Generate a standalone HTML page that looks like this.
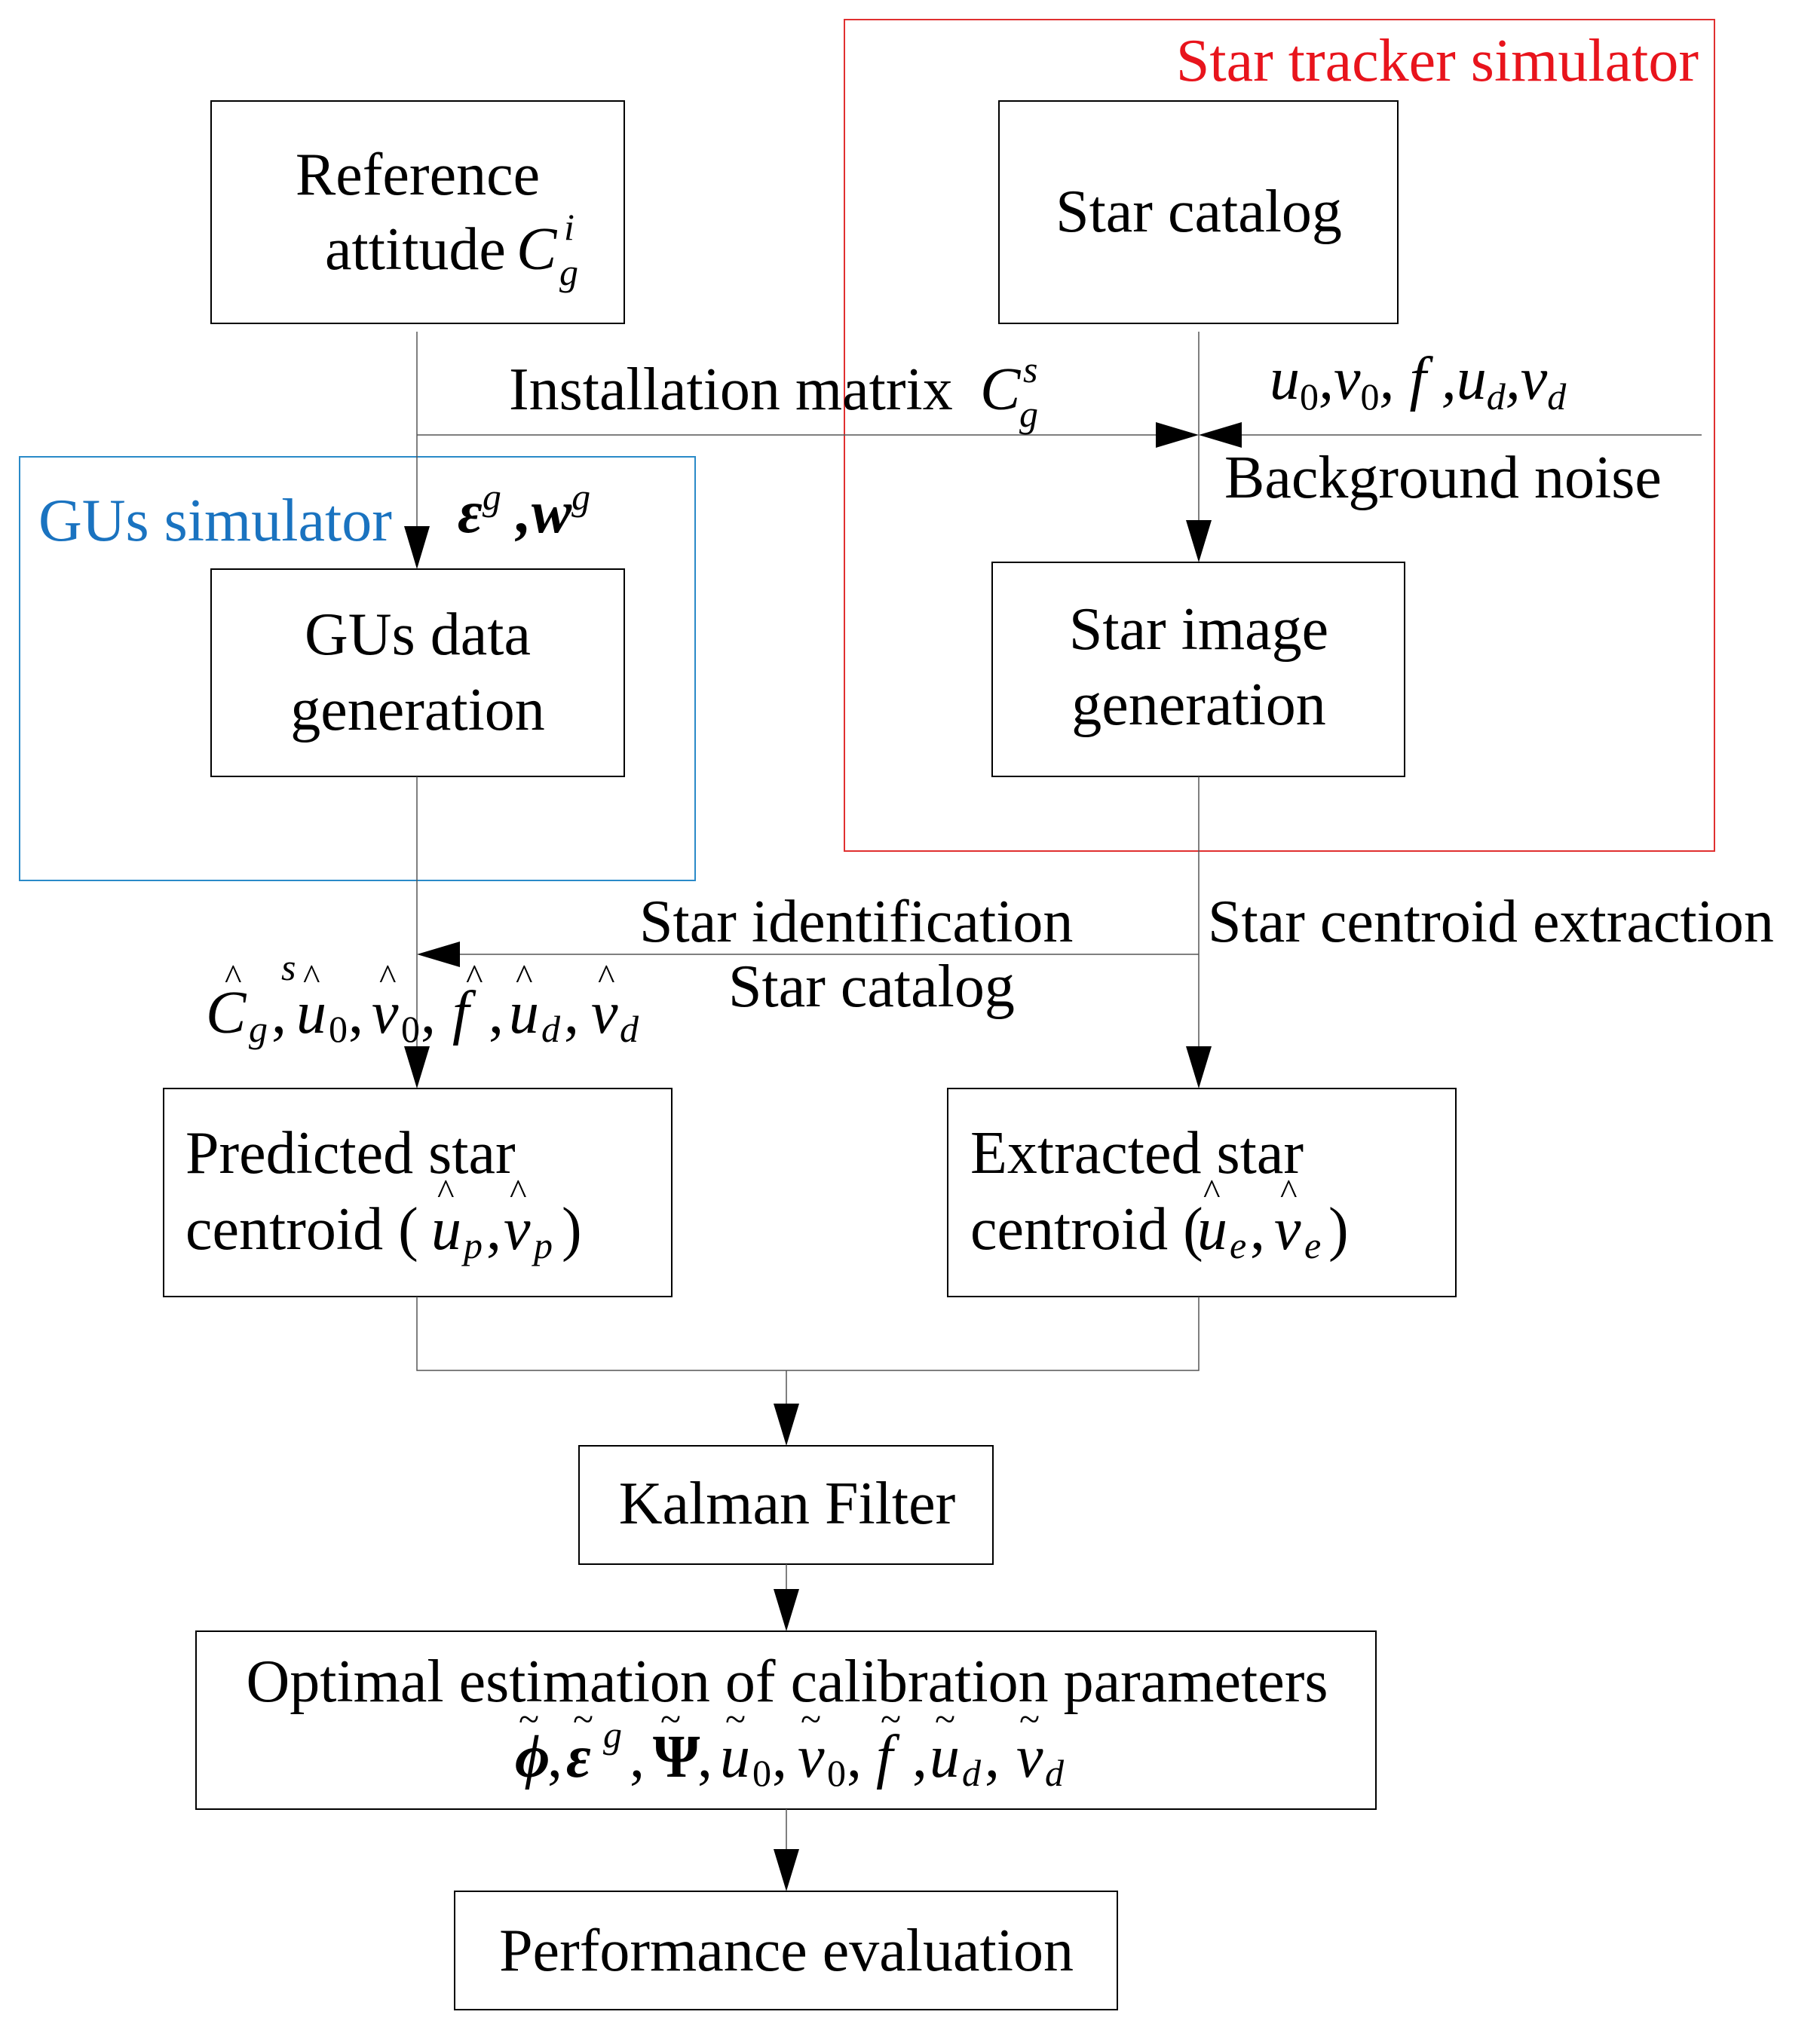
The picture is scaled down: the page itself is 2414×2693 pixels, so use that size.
<!DOCTYPE html>
<html><head><meta charset="utf-8"><style>
html,body{margin:0;padding:0;background:#fff}
svg{display:block}
text{font-family:"Liberation Serif",serif;font-size:80px;fill:#000}
.i{font-style:italic}
.s{font-size:50px}
.h{font-size:48px}
</style></head><body>
<svg width="2414" height="2693" viewBox="0 0 2414 2693" xmlns="http://www.w3.org/2000/svg">
<g fill="none" stroke-width="2">
<rect x="1120" y="26" width="1154" height="1103" stroke="#e03030"/>
<rect x="26" y="606" width="896" height="562" stroke="#2a8ac8"/>
<g stroke="#000">
<rect x="280" y="134" width="548" height="295"/>
<rect x="1325" y="134" width="529" height="295"/>
<rect x="280" y="755" width="548" height="275"/>
<rect x="1316" y="746" width="547" height="284"/>
<rect x="217" y="1444" width="674" height="276"/>
<rect x="1257" y="1444" width="674" height="276"/>
<rect x="768" y="1918" width="549" height="157"/>
<rect x="260" y="2164" width="1565" height="236"/>
<rect x="603" y="2509" width="879" height="157"/>
</g>
<g stroke="#555" stroke-width="1.5">
<line x1="553" y1="440" x2="553" y2="700"/>
<line x1="553" y1="1030" x2="553" y2="1390"/>
<line x1="553" y1="577" x2="1545" y2="577"/>
<line x1="1635" y1="577" x2="2257" y2="577"/>
<line x1="1590" y1="440" x2="1590" y2="690"/>
<line x1="1590" y1="1030" x2="1590" y2="1390"/>
<line x1="595" y1="1266" x2="1590" y2="1266"/>
<polyline points="553,1720 553,1818 1590,1818 1590,1720"/>
<line x1="1043" y1="1818" x2="1043" y2="1862"/>
<line x1="1043" y1="2075" x2="1043" y2="2108"/>
<line x1="1043" y1="2400" x2="1043" y2="2453"/>
</g>
</g>
<g fill="#000">
<polygon points="536,698 570,698 553,755"/>
<polygon points="1573,690 1607,690 1590,746"/>
<polygon points="1533,560 1533,594 1590,577"/>
<polygon points="1647,560 1647,594 1590,577"/>
<polygon points="553,1266 610,1249 610,1283"/>
<polygon points="536,1388 570,1388 553,1444"/>
<polygon points="1573,1388 1607,1388 1590,1444"/>
<polygon points="1026,1862 1060,1862 1043,1918"/>
<polygon points="1026,2108 1060,2108 1043,2164"/>
<polygon points="1026,2453 1060,2453 1043,2509"/>
</g>
<text x="2253" y="107" text-anchor="end" style="fill:#e8141c">Star tracker simulator</text>
<text x="51" y="717" style="fill:#1a73c0">GUs simulator</text>
<text x="554" y="258" text-anchor="middle">Reference</text>
<text x="431" y="357">attitude</text><text x="685" y="357" class="i">C</text>
<text x="748" y="318" class="i s">i</text><text x="742" y="378" class="i s">g</text>
<text x="1590" y="307" text-anchor="middle">Star catalog</text>
<text x="675" y="543">Installation matrix</text><text x="1300" y="543" class="i">C</text>
<text x="1357" y="507" class="i s">s</text><text x="1352" y="566" class="i s">g</text>
<text x="1684" y="529" class="i">u<tspan class="s" dy="14" style="font-style:normal">0</tspan><tspan dy="-14">,v</tspan><tspan class="s" dy="14" style="font-style:normal">0</tspan><tspan dy="-14">, f ,u</tspan><tspan class="s" dy="14">d</tspan><tspan dy="-14">,v</tspan><tspan class="s" dy="14">d</tspan></text>
<text x="1624" y="660">Background noise</text>
<text x="607" y="706" class="i" style="font-weight:bold">ε<tspan class="s" dy="-30" style="font-weight:normal">g</tspan><tspan dy="30"> ,w</tspan><tspan class="s" dy="-30" style="font-weight:normal">g</tspan></text>
<text x="554" y="868" text-anchor="middle">GUs data</text>
<text x="554" y="968" text-anchor="middle">generation</text>
<text x="1590" y="861" text-anchor="middle">Star image</text>
<text x="1590" y="961" text-anchor="middle">generation</text>
<text x="848" y="1249">Star identification</text>
<text x="1602" y="1249">Star centroid extraction</text>
<text x="966" y="1335">Star catalog</text>
<text x="273" y="1370" class="i">C</text><text x="330" y="1382" class="i s">g</text><text x="360" y="1370">,</text>
<text x="393" y="1370" class="i">u</text><text x="436" y="1382" class="s">0</text><text x="462" y="1370">,</text>
<text x="493" y="1370" class="i">v</text><text x="532" y="1382" class="s">0</text><text x="558" y="1370">,</text>
<text x="600" y="1370" class="i">f</text><text x="648" y="1370">,</text>
<text x="675" y="1370" class="i">u</text><text x="718" y="1382" class="i s">d</text><text x="748" y="1370">,</text>
<text x="784" y="1370" class="i">v</text><text x="822" y="1382" class="i s">d</text>
<text x="298" y="1312" class="h">^</text><text x="373" y="1300" class="i s">s</text>
<text x="402" y="1312" class="h">^</text><text x="503" y="1312" class="h">^</text>
<text x="618" y="1312" class="h">^</text><text x="684" y="1312" class="h">^</text><text x="793" y="1312" class="h">^</text>
<text x="246" y="1556">Predicted star</text>
<text x="246" y="1657">centroid (</text>
<text x="572" y="1657" class="i">u</text><text x="615" y="1669" class="i s">p</text><text x="645" y="1657">,</text>
<text x="668" y="1657" class="i">v</text><text x="708" y="1669" class="i s">p</text><text x="745" y="1657">)</text>
<text x="580" y="1597" class="h">^</text><text x="676" y="1597" class="h">^</text>
<text x="1287" y="1556">Extracted star</text>
<text x="1287" y="1657">centroid (</text>
<text x="1588" y="1657" class="i">u</text><text x="1631" y="1669" class="i s">e</text><text x="1658" y="1657">,</text>
<text x="1690" y="1657" class="i">v</text><text x="1730" y="1669" class="i s">e</text><text x="1762" y="1657">)</text>
<text x="1596" y="1597" class="h">^</text><text x="1698" y="1597" class="h">^</text>
<text x="1044" y="2021" text-anchor="middle">Kalman Filter</text>
<text x="1044" y="2257" text-anchor="middle">Optimal estimation of calibration parameters</text>
<text x="683" y="2357" class="i" style="font-weight:bold">ϕ</text><text x="726" y="2357">,</text>
<text x="751" y="2357" class="i" style="font-weight:bold">ε</text><text x="800" y="2318" class="i s">g</text>
<text x="835" y="2357">,</text><text x="866" y="2357" style="font-weight:bold">Ψ</text><text x="925" y="2357">,</text>
<text x="955" y="2357" class="i">u</text><text x="998" y="2369" class="s">0</text><text x="1024" y="2357">,</text>
<text x="1058" y="2357" class="i">v</text><text x="1097" y="2369" class="s">0</text><text x="1123" y="2357">,</text>
<text x="1162" y="2357" class="i">f</text><text x="1210" y="2357">,</text>
<text x="1233" y="2357" class="i">u</text><text x="1276" y="2369" class="i s">d</text><text x="1306" y="2357">,</text>
<text x="1348" y="2357" class="i">v</text><text x="1386" y="2369" class="i s">d</text>
<text x="688" y="2297" class="s">~</text><text x="760" y="2297" class="s">~</text>
<text x="876" y="2297" class="s">~</text><text x="962" y="2297" class="s">~</text><text x="1062" y="2297" class="s">~</text>
<text x="1168" y="2297" class="s">~</text><text x="1240" y="2297" class="s">~</text><text x="1352" y="2297" class="s">~</text>
<text x="1043" y="2614" text-anchor="middle">Performance evaluation</text>
</svg>
</body></html>
